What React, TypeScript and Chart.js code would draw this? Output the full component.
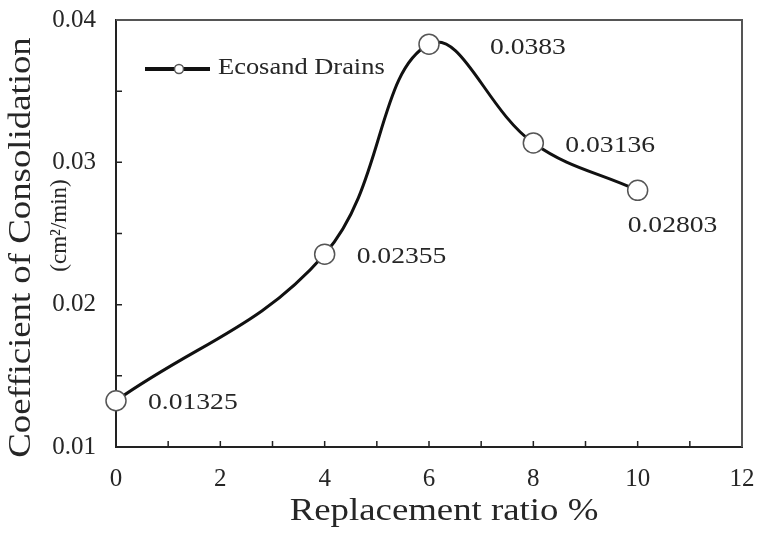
import React, { useEffect, useRef } from "react";
import { Chart, registerables } from "chart.js";

Chart.register(...registerables);

const ratios = [0, 4, 6, 8, 10];
const coefficients = [0.01325, 0.02355, 0.0383, 0.03136, 0.02803];
const pointLabels = ["0.01325", "0.02355", "0.0383", "0.03136", "0.02803"];
const seriesName = "Ecosand Drains";
const xTitle = "Replacement ratio %";
const yTitleLines = ["Coefficient of Consolidation", "(cm²/min)"];
const xTickLabels = ["0", "2", "4", "6", "8", "10", "12"];
const yTickLabels = ["0.01", "0.02", "0.03", "0.04"];

const FONT = "'Liberation Serif', 'Times New Roman', serif";
const TEXT = "#262626";

function drawStretched(
  ctx: CanvasRenderingContext2D,
  text: string,
  x: number,
  y: number,
  size: number,
  align: CanvasTextAlign,
  stretch: number,
  rotate = 0
) {
  ctx.save();
  ctx.translate(x, y);
  if (rotate) ctx.rotate(rotate);
  ctx.scale(stretch, 1);
  ctx.font = `${size}px ${FONT}`;
  ctx.fillStyle = TEXT;
  ctx.textAlign = align;
  ctx.textBaseline = "middle";
  ctx.fillText(text, 0, 0);
  ctx.restore();
}

// label offsets (text left edge / vertical centre relative to the point)
const labelOffsets = [
  [32, 2],
  [32, 3],
  [61, 4],
  [32, 3],
  [-10, 35],
];

const decorPlugin = {
  id: "decor",
  afterDraw(chart: any) {
    const { ctx, chartArea: a, scales } = chart;
    const xs = scales.x;
    const ys = scales.y;
    ctx.save();
    // top & right frame
    ctx.strokeStyle = "#555";
    ctx.lineWidth = 2;
    ctx.beginPath();
    ctx.moveTo(a.left, a.top);
    ctx.lineTo(a.right, a.top);
    ctx.lineTo(a.right, a.bottom);
    ctx.stroke();
    // inward ticks
    ctx.strokeStyle = "#222";
    ctx.lineWidth = 1.5;
    ctx.beginPath();
    for (let v = 1; v < 12; v++) {
      const px = xs.getPixelForValue(v);
      ctx.moveTo(px, a.bottom);
      ctx.lineTo(px, a.bottom - 6);
    }
    for (let i = 1; i < 6; i++) {
      const v = 0.01 + i * 0.005;
      const py = ys.getPixelForValue(v);
      ctx.moveTo(a.left, py);
      ctx.lineTo(a.left + 6, py);
    }
    ctx.stroke();
    ctx.restore();

    // data labels
    const meta = chart.getDatasetMeta(0);
    meta.data.forEach((pt: any, i: number) => {
      const [dx, dy] = labelOffsets[i];
      drawStretched(ctx, pointLabels[i], pt.x + dx, pt.y + dy, 24, "left", 1.15);
    });

    // legend
    const ly = a.top + 49;
    ctx.save();
    ctx.strokeStyle = "#111";
    ctx.lineWidth = 4;
    ctx.beginPath();
    ctx.moveTo(a.left + 29, ly);
    ctx.lineTo(a.left + 94, ly);
    ctx.stroke();
    ctx.beginPath();
    ctx.arc(a.left + 63, ly, 4.5, 0, Math.PI * 2);
    ctx.fillStyle = "#fff";
    ctx.fill();
    ctx.strokeStyle = "#555";
    ctx.lineWidth = 1.5;
    ctx.stroke();
    ctx.restore();
    drawStretched(ctx, seriesName, a.left + 102, ly - 1, 23, "left", 1.15);

    // axis titles
    drawStretched(ctx, xTitle, (a.left + a.right) / 2 + 15, a.bottom + 65, 32, "center", 1.15);
    drawStretched(ctx, yTitleLines[0], 22, (a.top + a.bottom) / 2 + 14, 32, "center", 1.15, -Math.PI / 2);
    drawStretched(ctx, yTitleLines[1], 60, (a.top + a.bottom) / 2 - 8, 23, "center", 1.0, -Math.PI / 2);
  },
};

export default function App() {
  const ref = useRef<HTMLCanvasElement | null>(null);
  useEffect(() => {
    document.body.style.margin = "0";
    const canvas = ref.current!;
    const chart = new Chart(canvas, {
      type: "line",
      data: {
        datasets: [
          {
            label: seriesName,
            data: ratios.map((r, i) => ({ x: r, y: coefficients[i] })),
            borderColor: "#111",
            borderWidth: 3,
            tension: 0.4,
            pointRadius: 10,
            pointBackgroundColor: "#fff",
            pointBorderColor: "#555",
            pointBorderWidth: 1.5,
            clip: false as any,
          },
        ],
      },
      options: {
        animation: false,
        responsive: false,
        devicePixelRatio: 1,
        layout: { padding: { top: 20, right: 17, left: 0, bottom: 0 } },
        plugins: { legend: { display: false }, tooltip: { enabled: false } },
        scales: {
          x: {
            type: "linear",
            min: 0,
            max: 12,
            grid: { display: false, drawTicks: false },
            border: { display: true, color: "#222", width: 2 },
            ticks: {
              stepSize: 1,
              padding: 17,
              color: TEXT,
              font: { family: FONT, size: 25 },
              maxRotation: 0,
              autoSkip: false,
              callback: (v: any) => {
                const n = Number(v);
                return n % 2 === 0 ? xTickLabels[n / 2] : "";
              },
            },
            afterFit: (s: any) => {
              s.height = 88;
              s.paddingLeft = 0;
              s.paddingRight = 0;
            },
          },
          y: {
            type: "linear",
            min: 0.01,
            max: 0.04,
            grid: { display: false, drawTicks: false },
            border: { display: true, color: "#222", width: 2 },
            ticks: {
              stepSize: 0.005,
              padding: 20,
              color: TEXT,
              font: { family: FONT, size: 25 },
              autoSkip: false,
              callback: (v: any) => {
                const k = Math.round(Number(v) * 200);
                return k % 2 === 0 ? yTickLabels[k / 2 - 1] : "";
              },
            },
            afterFit: (s: any) => {
              s.width = 116;
              s.paddingTop = 0;
              s.paddingBottom = 0;
            },
          },
        },
      },
      plugins: [decorPlugin],
    });
    return () => chart.destroy();
  }, []);
  return (
    <div style={{ width: 759, height: 535 }}>
      <canvas ref={ref} width={759} height={535} style={{ display: "block" }} />
    </div>
  );
}
